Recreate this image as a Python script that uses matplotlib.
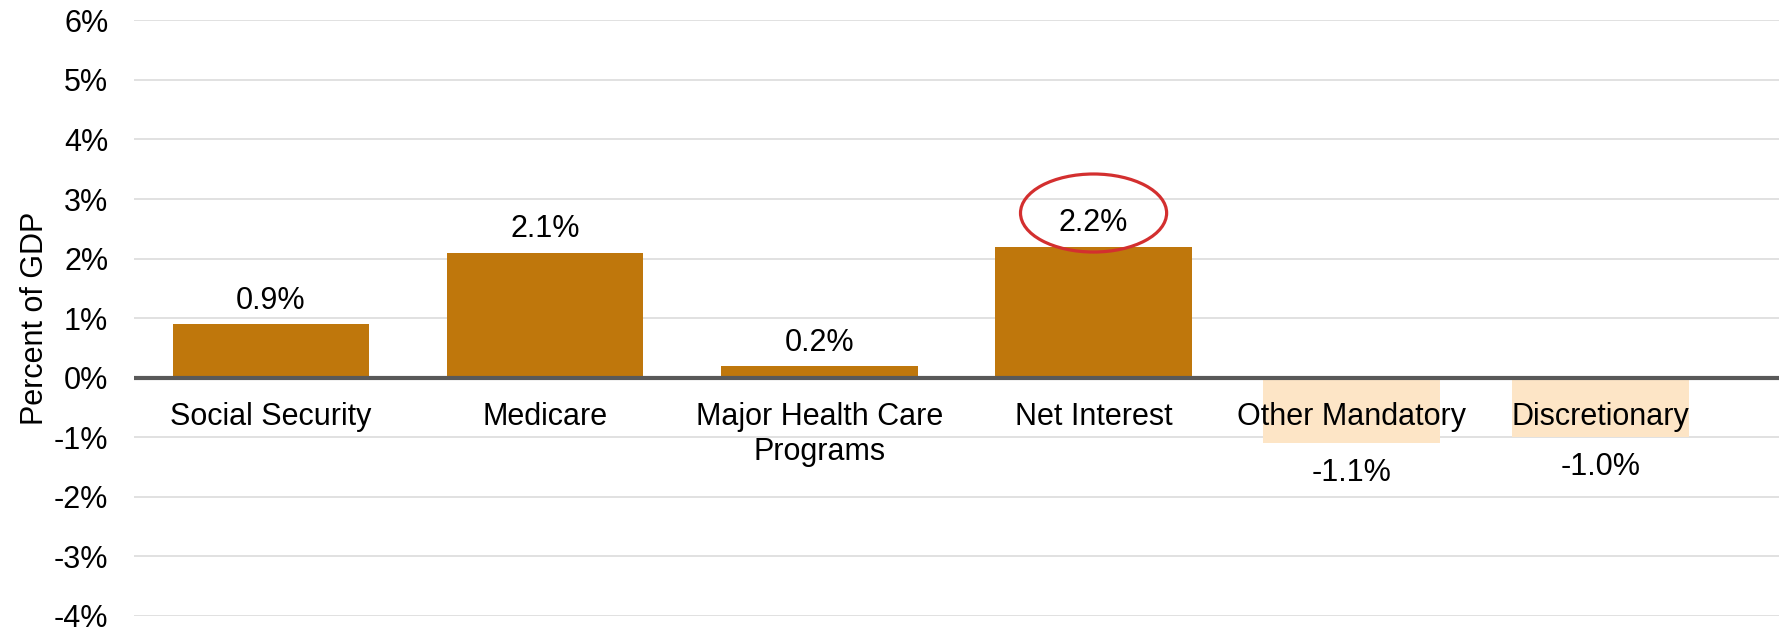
import matplotlib
matplotlib.use('Agg')
import matplotlib.pyplot as plt
from matplotlib.patches import Ellipse

plt.rcParams['font.family'] = ['Liberation Sans', 'DejaVu Sans']

categories = ['Social Security', 'Medicare', 'Major Health Care\nPrograms',
              'Net Interest', 'Other Mandatory', 'Discretionary']
values = [0.9, 2.1, 0.2, 2.2, -1.1, -1.0]
yticks = [-4, -3, -2, -1, 0, 1, 2, 3, 4, 5, 6]

# the two offset categories sit a bit left of their even slots
xpos = [0, 1, 2, 3, 3.94, 4.85]
widths = [0.716, 0.716, 0.716, 0.716, 0.645, 0.645]
colors = ['#BF770C' if v > 0 else '#FDE5C6' for v in values]

fig = plt.figure(figsize=(17.79, 6.29), dpi=100)
ax = fig.add_axes([0.0753, 0.0207, 0.9247, 0.947])

ax.bar(xpos, values, width=widths, color=colors, zorder=2)
ax.axhline(0, color='#595959', linewidth=3, zorder=4)

ax.set_xlim(-0.5, 5.5)
ax.set_ylim(-4, 6)
ax.set_yticks(yticks)
ax.set_yticklabels(['%d%%' % t for t in yticks], fontsize=22)
ax.tick_params(axis='y', length=0, pad=18.5)
ax.set_xticks([])
ax.grid(True, axis='y', color='#D9D9D9', linewidth=1.1, zorder=0)
ax.set_axisbelow(True)
for s in ax.spines.values():
    s.set_visible(False)
ax.set_ylabel('Percent of GDP', fontsize=22, labelpad=2.5)

for x, v, name in zip(xpos, values, categories):
    # category name under the zero line
    ax.annotate(name, (x, 0), xytext=(0, -17.5), textcoords='offset points',
                ha='center', va='top', fontsize=22, linespacing=1.2,
                zorder=5)
    if v >= 0:
        ax.annotate('%.1f%%' % v, (x, v), xytext=(0, 11), textcoords='offset points',
                    ha='center', va='baseline', fontsize=22, zorder=5)
    else:
        ax.annotate('%.1f%%' % v, (x, v), xytext=(0, -27.5), textcoords='offset points',
                    ha='center', va='baseline', fontsize=22, zorder=5)

# highlight ring around the net interest label
ax.add_patch(Ellipse((xpos[3], 2.765), 0.533, 1.31, fill=False,
                     edgecolor='#D32F2F', linewidth=2.3, zorder=6, clip_on=False))

fig.savefig('out.png', dpi=100)
